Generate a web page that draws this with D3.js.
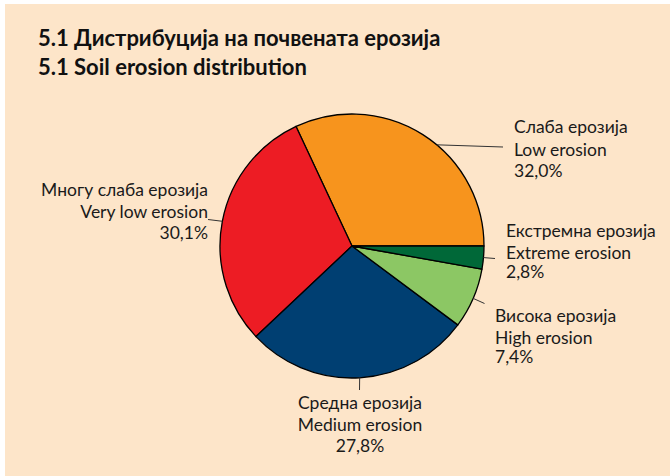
<!DOCTYPE html>
<html>
<head>
<meta charset="utf-8">
<script src="https://cdn.jsdelivr.net/npm/d3@7"></script>
<style>
  html, body { margin: 0; padding: 0; background: #ffffff; }
  svg { display: block; }
  text { font-family: Lato, "Open Sans", "Noto Sans", sans-serif; fill: #1a1a1a; }
</style>
</head>
<body>
<svg id="chart" width="670" height="476"></svg>
<script>
// ---- data ----
const categories = ["Low erosion", "Very low erosion", "Medium erosion", "High erosion", "Extreme erosion"];
const categoriesMk = ["Слаба ерозија", "Многу слаба ерозија", "Средна ерозија", "Висока ерозија", "Екстремна ерозија"];
const shares = [32.0, 30.1, 27.8, 7.4, 2.8];
const colors = ["#F7941D", "#ED1C24", "#003F72", "#8CC764", "#006838"];
const titleLines = ["5.1 Дистрибуција на почвената ерозија", "5.1 Soil erosion distribution"];

// ---- layout (kept separate from data) ----
const W = 670, H = 476;
const cx = 352, cy = 246, R = 132;
const labelLayout = [
  { anchor: "start",  x: 514, ys: [133, 156, 177], end: [503, 147], angOff: -7.5 },
  { anchor: "end",    x: 208, ys: [196, 218, 239], end: [208, 219.5], angOff: 0 },
  { anchor: "middle", x: 360, ys: [409, 431, 452], end: [359.5, 390], angOff: 0 },
  { anchor: "start",  x: 506, ys: [237, 259, 278], end: [495, 258.5], angOff: 0 },
  { anchor: "start",  x: 495, ys: [322, 344, 363], end: [484.5, 303.5], angOff: 0 }
];
// layout order follows data order: Low, Very low, Medium, High, Extreme
const layoutIndex = [0, 1, 2, 4, 3];

const svg = d3.select("#chart");

svg.append("rect").attr("x", 5).attr("y", 4).attr("width", W - 5).attr("height", H - 4)
  .attr("fill", "#FDE5C9");

const title = svg.append("text").style("font-weight", "700").style("font-size", "22px")
  .style("fill", "#111");
titleLines.forEach((t, i) => {
  title.append("tspan").attr("x", 38).attr("y", 46 + i * 28.5).text(t);
});

const pie = d3.pie().sort(null).value(d => d)
  .startAngle(Math.PI / 2).endAngle(Math.PI / 2 - 2 * Math.PI);
const arcs = pie(shares);
const arc = d3.arc().innerRadius(0).outerRadius(R);

const g = svg.append("g").attr("transform", `translate(${cx},${cy})`);
g.selectAll("path.slice").data(arcs).enter().append("path")
  .attr("class", "slice")
  .attr("d", arc)
  .attr("fill", (d, i) => colors[i])
  .attr("stroke", "#000")
  .attr("stroke-width", 1.3)
  .attr("stroke-linejoin", "round");

const fmt = v => d3.format(".1f")(v).replace(".", ",") + "%";
arcs.forEach((d, i) => {
  const L = labelLayout[layoutIndex[i]];
  const mid = (d.startAngle + d.endAngle) / 2 - L.angOff * Math.PI / 180;
  const sx = cx + R * Math.sin(mid), sy = cy - R * Math.cos(mid);
  svg.append("line")
    .attr("x1", sx).attr("y1", sy).attr("x2", L.end[0]).attr("y2", L.end[1])
    .attr("stroke", "#333").attr("stroke-width", 1);
  const lines = [categoriesMk[i], categories[i], fmt(shares[i])];
  const t = svg.append("text").attr("text-anchor", L.anchor).style("font-size", "17.5px");
  lines.forEach((s, k) => {
    t.append("tspan").attr("x", L.x).attr("y", L.ys[k]).text(s);
  });
});
</script>
</body>
</html>
